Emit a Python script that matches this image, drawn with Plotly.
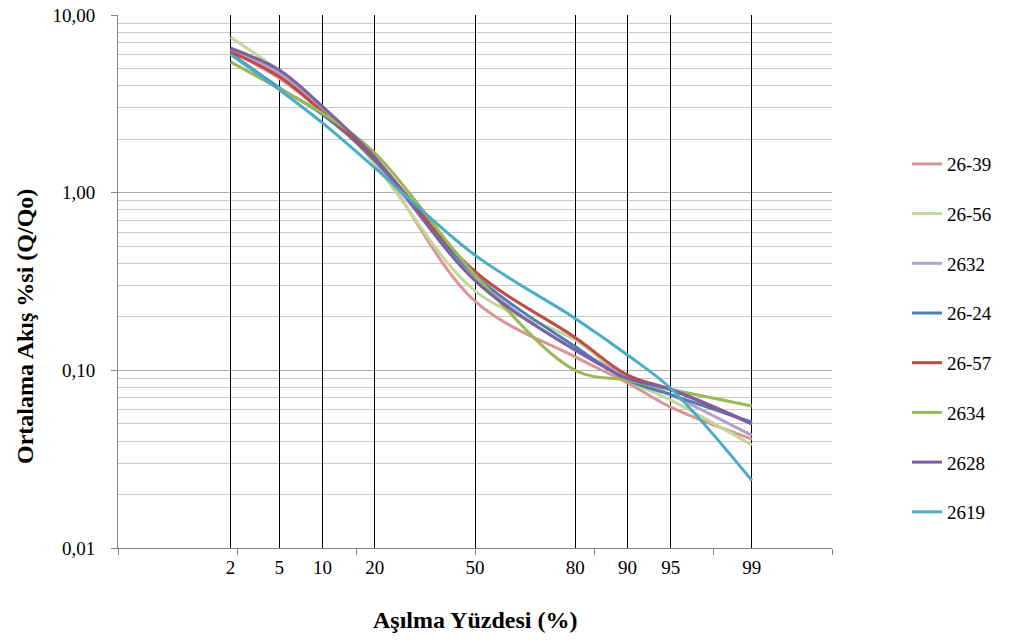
from statistics import NormalDist
import plotly.graph_objects as go

percentiles = [2, 5, 10, 20, 50, 80, 90, 95, 99]
pct_labels = ["2", "5", "10", "20", "50", "80", "90", "95", "99"]

series_names = ["26-39", "26-56", "2632", "26-24", "26-57", "2634", "2628", "2619"]
s_26_39 = [6.3, 4.4, 2.85, 1.50, 0.245, 0.119, 0.085, 0.062, 0.041]
s_26_56 = [7.5, 4.85, 3.05, 1.45, 0.28, 0.148, 0.088, 0.068, 0.038]
s_2632 = [6.4, 4.7, 2.95, 1.50, 0.33, 0.130, 0.094, 0.073, 0.043]
s_26_24 = [6.1, 3.9, 2.75, 1.52, 0.344, 0.136, 0.088, 0.073, 0.051]
s_26_57 = [6.2, 4.5, 2.85, 1.55, 0.36, 0.153, 0.094, 0.078, 0.050]
s_2634 = [5.45, 3.85, 2.8, 1.67, 0.345, 0.100, 0.088, 0.078, 0.063]
s_2628 = [6.5, 4.9, 3.05, 1.58, 0.32, 0.130, 0.090, 0.078, 0.050]
s_2619 = [6.0, 3.8, 2.47, 1.38, 0.445, 0.196, 0.122, 0.079, 0.024]
series_values = [s_26_39, s_26_56, s_2632, s_26_24, s_26_57, s_2634, s_2628, s_2619]
colors = ["#D99694", "#C3D69B", "#B3A2C7", "#4A7EBB", "#BE4B48", "#98B954", "#7D60A0", "#4BACC6"]

y_major = [0.01, 0.1, 1, 10]
y_major_labels = ["0,01", "0,10", "1,00", "10,00"]
y_minor = [m * d for d in [0.01, 0.1, 1] for m in range(2, 10)]
z_ticks = [-3, -2, -1, 0, 1, 2, 3]

nd = NormalDist()
xz = [nd.inv_cdf(p / 100.0) for p in percentiles]

FONT = "Liberation Serif"
FS = 19
fig = go.Figure()
for name, vals, col in zip(series_names, series_values, colors):
    fig.add_trace(go.Scatter(
        x=xz, y=vals, name=name, mode="lines",
        line=dict(color=col, width=3, shape="spline", smoothing=1.0),
        legendgroup=name,
    ))
# dummy trace to host the percentile axis
fig.add_trace(go.Scatter(x=[xz[4]], y=[1], xaxis="x2", mode="markers",
                         marker=dict(opacity=0), showlegend=False, hoverinfo="skip"))

fig.update_layout(
    width=1013, height=642,
    margin=dict(l=118, r=181, t=15, b=94, autoexpand=False),
    paper_bgcolor="white", plot_bgcolor="white",
    font=dict(family=FONT, size=FS, color="black"),
    xaxis=dict(range=[-3, 3], tickvals=z_ticks, showticklabels=False,
               ticks="outside", ticklen=6, tickcolor="#868686",
               showline=True, linecolor="#868686", linewidth=1,
               showgrid=False, zeroline=False, fixedrange=True, automargin=False),
    xaxis2=dict(range=[-3, 3], overlaying="x", anchor="y", side="bottom",
                tickvals=xz, ticktext=pct_labels, ticks="",
                showgrid=True, gridcolor="black", gridwidth=1,
                showline=False, zeroline=False, ticklabelstandoff=6, automargin=False,
                tickfont=dict(family=FONT, size=FS)),
    yaxis=dict(type="log", range=[-2, 1], tickvals=y_major, ticktext=y_major_labels,
               ticks="outside", ticklen=6, tickcolor="#868686",
               showline=True, linecolor="#868686", linewidth=1,
               showgrid=True, gridcolor="#ABABAB", gridwidth=1,
               zeroline=False, ticklabelstandoff=12, automargin=False,
               tickfont=dict(family=FONT, size=FS),
               minor=dict(tickvals=y_minor, showgrid=True, gridcolor="#C8C8C8",
                          gridwidth=1, ticks="")),
    legend=dict(x=1.105, y=0.756, xanchor="left", yanchor="top",
                font=dict(family=FONT, size=FS),
                tracegroupgap=22, itemwidth=30, bgcolor="rgba(0,0,0,0)"),
    annotations=[
        dict(text="<b>Ortalama Akış %si (Q/Qo)</b>", xref="paper", yref="paper",
             x=-0.13, y=0.415, xanchor="center", yanchor="middle",
             textangle=-90, showarrow=False, font=dict(family=FONT, size=24)),
        dict(text="<b>Aşılma Yüzdesi (%)</b>", xref="paper", yref="paper",
             x=0.5, y=-0.135, xanchor="center", yanchor="middle",
             showarrow=False, font=dict(family=FONT, size=24)),
    ],
)
fig.write_html("out.html")
